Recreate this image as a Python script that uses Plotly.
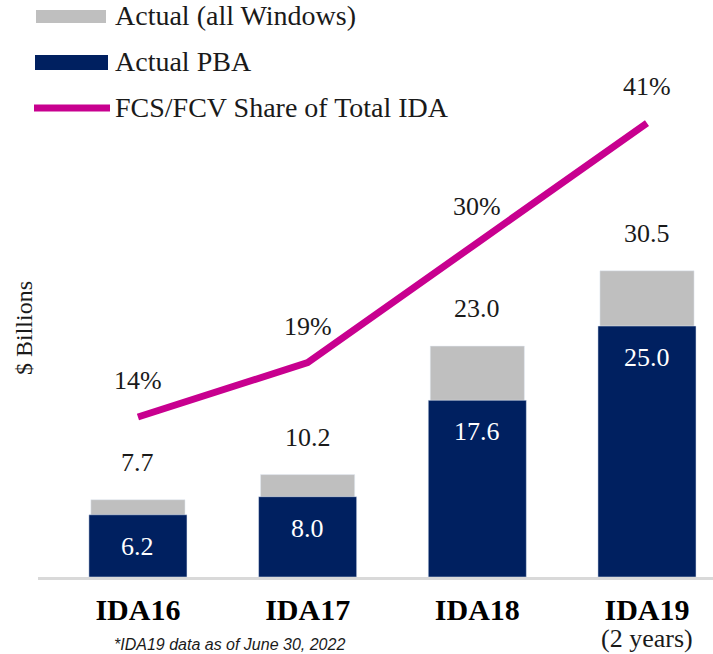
import plotly.graph_objects as go

# ---- data ----
categories = ["IDA16", "IDA17", "IDA18", "IDA19"]
total_all_windows = [7.7, 10.2, 23.0, 30.5]
actual_pba = [6.2, 8.0, 17.6, 25.0]
fcs_share_pct = [14, 19, 30, 41]
tick_labels = ["<b>IDA16</b>", "<b>IDA17</b>", "<b>IDA18</b>", "<b>IDA19</b>"]

# ---- styling / layout constants ----
W, H = 713, 654
ML, MR, MT, MB = 38, 0, 0, 77
PW, PH = W - ML - MR, H - MT - MB

def px(x):
    return (x - ML) / PW

def py(y):
    return (MT + PH - y) / PH

GREY = "#bfbfbf"
NAVY = "#002060"
MAGENTA = "#c8008f"
TXT = "#1a1a1a"
SERIF = "Liberation Serif, Times New Roman, serif"

fig = go.Figure()
fig.add_trace(go.Bar(x=categories, y=total_all_windows, marker_color=GREY,
                     width=0.555, name="Actual (all Windows)", hoverinfo="skip"))
fig.add_trace(go.Bar(x=categories, y=actual_pba, marker_color=NAVY,
                     width=0.578, name="Actual PBA", hoverinfo="skip"))
fig.add_trace(go.Scatter(x=categories, y=fcs_share_pct, mode="lines", yaxis="y2",
                         line=dict(color=MAGENTA, width=7),
                         name="FCS/FCV Share of Total IDA", hoverinfo="skip"))

ann = []
for c, t in zip(categories, total_all_windows):
    ann.append(dict(x=c, y=t, text=f"{t:.1f}", showarrow=False, yanchor="bottom",
                    yshift=21, font=dict(family=SERIF, size=26, color=TXT)))
for c, v in zip(categories, actual_pba):
    ann.append(dict(x=c, y=v, text=f"{v:.1f}", showarrow=False, yanchor="top",
                    yshift=-15, font=dict(family=SERIF, size=26, color="white")))
for c, p in zip(categories, fcs_share_pct):
    ann.append(dict(x=c, y=p, yref="y2", text=f"{p}%", showarrow=False,
                    yanchor="bottom", yshift=20,
                    font=dict(family=SERIF, size=26, color=TXT)))

# second line of last category label
ann.append(dict(x=categories[3], xref="x", y=py(638), yref="paper", text="(2 years)",
                xanchor="center", yanchor="middle", showarrow=False,
                font=dict(family=SERIF, size=26, color=TXT)))
# y-axis title
ann.append(dict(x=px(24), y=py(328), xref="paper", yref="paper", text="$ Billions",
                xanchor="center", yanchor="middle", textangle=-90, showarrow=False,
                font=dict(family=SERIF, size=24, color=TXT)))
# footnote
ann.append(dict(x=px(229), y=py(644), xref="paper", yref="paper",
                text="<i>*IDA19 data as of June 30, 2022</i>", showarrow=False,
                xanchor="center", yanchor="middle",
                font=dict(family="Liberation Sans, Arial, sans-serif", size=16, color=TXT)))

# custom legend
legend_items = [("Actual (all Windows)", 16), ("Actual PBA", 62), ("FCS/FCV Share of Total IDA", 108)]
shapes = [
    dict(type="rect", xref="paper", yref="paper", x0=px(36), x1=px(106),
         y0=py(23), y1=py(10), fillcolor=GREY, line=dict(width=0)),
    dict(type="rect", xref="paper", yref="paper", x0=px(35), x1=px(108),
         y0=py(70), y1=py(55), fillcolor=NAVY, line=dict(width=0)),
    dict(type="line", xref="paper", yref="paper", x0=px(34), x1=px(110),
         y0=py(108), y1=py(108), line=dict(color=MAGENTA, width=7)),
]
for text, yc in legend_items:
    ann.append(dict(x=px(113), y=py(yc), xref="paper", yref="paper", text=text,
                    xanchor="left", yanchor="middle", showarrow=False,
                    font=dict(family=SERIF, size=28, color=TXT)))

fig.update_layout(
    width=W, height=H,
    margin=dict(l=ML, r=MR, t=MT, b=MB, pad=0),
    paper_bgcolor="white", plot_bgcolor="white",
    barmode="overlay", showlegend=False,
    xaxis=dict(type="category", range=[-0.589, 3.389], tickmode="array",
               tickvals=categories, ticktext=tick_labels,
               tickfont=dict(family=SERIF, size=30, color="black"),
               showline=True, linecolor="#d9d9d9", linewidth=3,
               showgrid=False, zeroline=False, ticks="", ticklabelstandoff=4),
    yaxis=dict(range=[0, PH / 10.04], visible=False, showgrid=False, zeroline=False),
    yaxis2=dict(range=[-0.69, 52.3], overlaying="y", visible=False,
                showgrid=False, zeroline=False),
    annotations=ann, shapes=shapes,
)

fig.write_html("out.html", config={"displayModeBar": False},
               post_script="document.body.style.margin='0px';")
